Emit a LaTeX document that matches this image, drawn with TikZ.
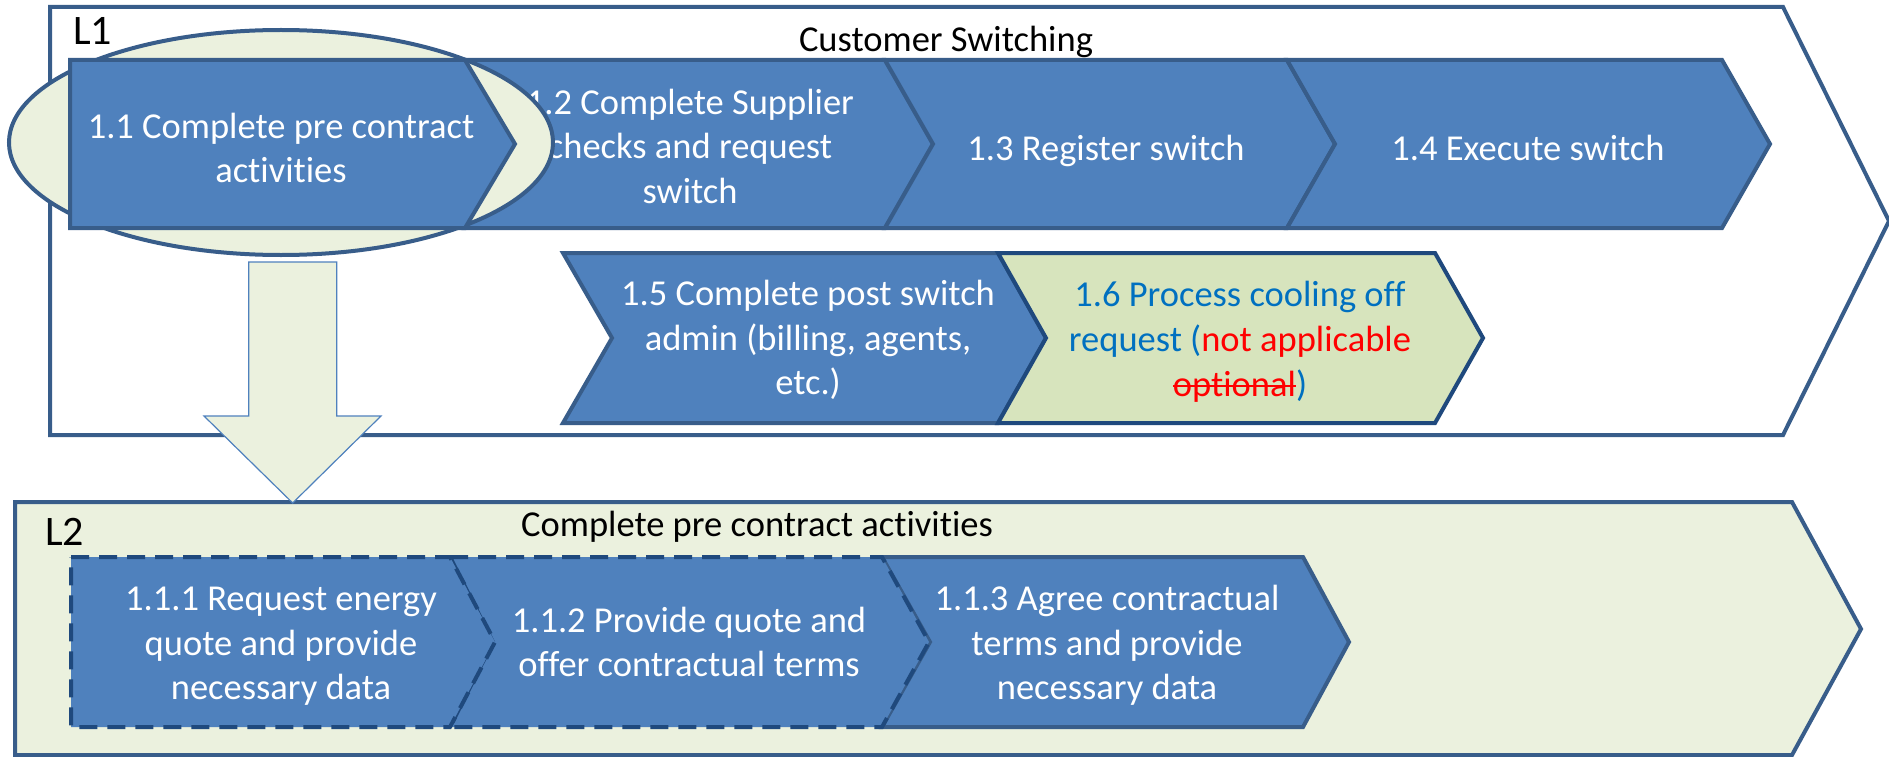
\documentclass[tikz,border=0pt]{standalone}
\usepackage{fontspec}
\setmainfont{Carlito}[Ligatures=NoCommon]
\newcommand{\mystrike}[1]{\setbox0\hbox{#1}\rlap{\raisebox{0.5ex}{\rule{\wd0}{2.4pt}}}\box0}
\definecolor{accfill}{HTML}{4F81BD}
\definecolor{accline}{HTML}{385D8A}
\definecolor{darkline}{HTML}{1F497D}
\definecolor{lightgreen}{HTML}{EBF1DE}
\definecolor{oliveg}{HTML}{D7E4BD}
\definecolor{txtblue}{HTML}{0070C0}
\tikzset{
  box/.style={fill=accfill, draw=accline, line width=4pt, line join=miter},
  dbox/.style={box, draw=darkline, dash pattern=on 18pt off 10pt},
  optbox/.style={fill=oliveg, draw=darkline, line width=4pt, line join=miter},
  frame/.style={draw=accline, line width=4pt, line join=miter},
  txt/.style={text=white, align=center, inner sep=0pt,
    font=\fontsize{36.5}{44.5}\selectfont,
    execute at begin node=\strut, execute at end node=\strut},
  title/.style={text=black, inner sep=0pt, font=\fontsize{36.5}{44.5}\selectfont},
  level/.style={text=black, inner sep=0pt, font=\fontsize{42}{50}\selectfont},
  bigarrow/.style={fill=lightgreen, draw=accfill, line width=1.2pt}
}
\begin{document}
\begin{tikzpicture}[x=1pt, y=-1pt]
\useasboundingbox (0,0) rectangle (1889,757);

% L1 frame
\draw[frame, fill=white] (50,7) -- (1783,7) -- (1889,221) -- (1783,435) -- (50,435) -- cycle;
% L2 frame
\draw[frame, fill=lightgreen] (15,502) -- (1792,502) -- (1861,629) -- (1792,755) -- (15,755) -- cycle;

\node[level, anchor=base west] (l1) at (73,45) {L1};
\node[title, anchor=base] (t1) at (946,52) {Customer Switching};

% top row
\draw[box] (465,60) -- (885,60) -- (933,144) -- (885,228) -- (465,228) -- (515,144) -- cycle;
\node[txt] (s12) at (690,153) {1.2 Complete Supplier\\checks and request\\switch};
\draw[box] (885,60) -- (1287,60) -- (1335,144) -- (1287,228) -- (885,228) -- (933,144) -- cycle;
\node[txt] (s13) at (1106,152) {1.3 Register switch};
\draw[box] (1287,60) -- (1722,60) -- (1770,144) -- (1722,228) -- (1287,228) -- (1335,144) -- cycle;
\node[txt] (s14) at (1528,152) {1.4 Execute switch};

% highlight ellipse
\draw[frame, fill=lightgreen] (281,142.5) ellipse [x radius=272, y radius=112.5];

\draw[box] (70,60) -- (465,60) -- (515,144) -- (465,228) -- (70,228) -- cycle;
\node[txt] (s11) at (281,154.5) {1.1 Complete pre contract\\activities};

% second row
\draw[box] (563,253) -- (998,253) -- (1046,338) -- (998,423) -- (563,423) -- (612,338) -- cycle;
\node[txt] (s15) at (808,344) {1.5 Complete post switch\\admin (billing, agents,\\etc.)};
\draw[optbox] (998,253) -- (1435,253) -- (1483,338) -- (1435,423) -- (998,423) -- (1046,338) -- cycle;
\node[txt, text=txtblue] (s16) at (1240,345.5) {1.6 Process cooling off\\request ({\color{red}not applicable}\\{\color{red}\mystrike{optional}})};

% big down arrow
\draw[bigarrow] (248.7,262) -- (336.7,262) -- (336.7,416) -- (381,416) -- (292.7,503) -- (204,416) -- (248.7,416) -- cycle;

% L2 contents
\node[level, anchor=base west] (l2) at (45,545) {L2};
\node[title, anchor=base] (t2) at (757,536) {Complete pre contract activities};

\draw[box] (882,557) -- (1303,557) -- (1349,642) -- (1303,727) -- (882,727) -- (930,642) -- cycle;
\node[txt] (s113) at (1107,649) {1.1.3 Agree contractual\\terms and provide\\necessary data};
\draw[dbox] (450,557) -- (882,557) -- (929,642) -- (882,727) -- (450,727) -- (493,642) -- cycle;
\node[txt] (s112) at (689,648.5) {1.1.2 Provide quote and\\offer contractual terms};
\draw[dbox] (71,557) -- (450,557) -- (495,642) -- (450,727) -- (71,727) -- cycle;
\node[txt] (s111) at (281,650) {1.1.1 Request energy\\quote and provide\\necessary data};
\end{tikzpicture}
\end{document}
